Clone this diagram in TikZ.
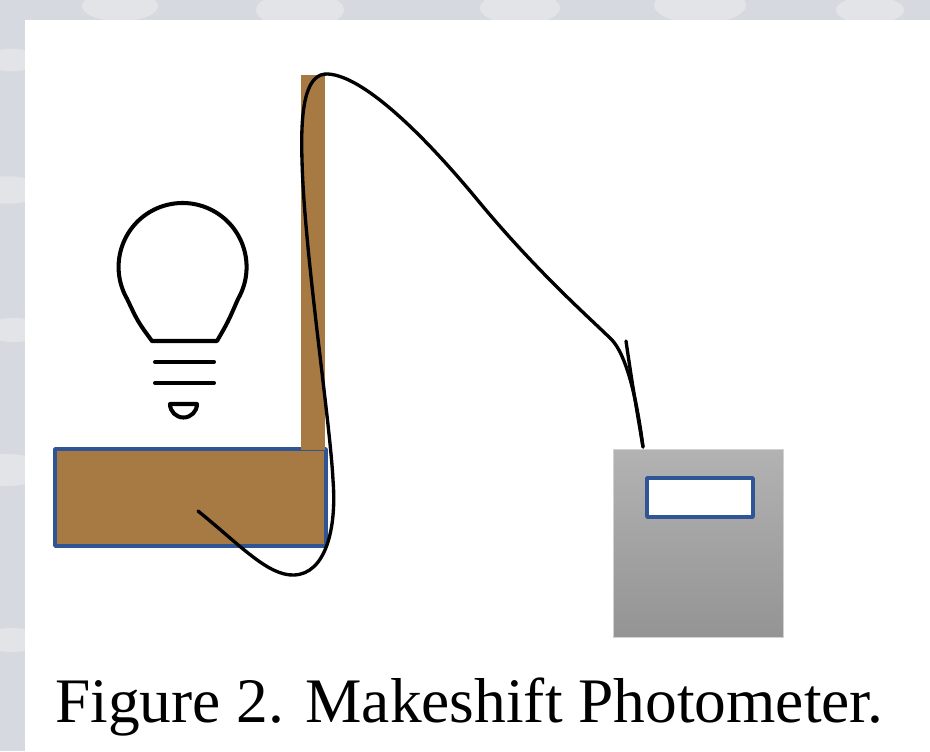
\documentclass[tikz,border=0pt]{standalone}
\usepackage{fontspec}
\setmainfont{Liberation Serif}
\definecolor{wood}{HTML}{A87A43}
\definecolor{edge}{HTML}{2F5597}
\definecolor{haze}{HTML}{D6D9DF}
\begin{document}
\begin{tikzpicture}[x=.02cm, y=-.02cm, line join=round, line cap=round]
	\useasboundingbox (0,0) rectangle (930,751);
	\fill[haze] (0,0) rectangle (930,751);
	\foreach \x/\y/\r in {12/60/28, 8/190/34, 14/330/30, 6/470/40, 12/640/30, 120/6/38, 300/10/44, 520/8/40, 700/5/46, 870/10/34}
		\fill[white, opacity=.3] (\x,\y) ellipse ({\r} and {.4*\r});
	\fill[white] (25,20) rectangle (930,751);
	% lamp
	\begin{scope}[line width=2.3pt]
		\draw (152,341) -- (217,341) .. controls (228,322) .. (238,299)
			arc[start angle=30, end angle=-210, radius=64]
			.. controls (138,322) .. (152,341);
		\foreach \y in {362,383} \draw (155,\y) -- (214,\y);
		\draw (170,404) -- (197,404) arc[start angle=0, end angle=180, radius=13.5];
	\end{scope}
	% stand
	\fill[wood] (55,449) rectangle (326,546);
	\draw[edge, line width=2pt] (55,449) rectangle (326,546);
	\fill[wood] (301,75) rectangle (325,450);
	% meter
	\shade[top color=black!30, bottom color=black!42, draw=black!18, thin] (613,449) rectangle (783,637);
	\draw[edge, line width=2pt, fill=white] (647,478) rectangle (753,517);
	% cable
	\coordinate (sensor) at (198,511);
	\coordinate (plug) at (643,447);
	\draw[line width=1.9pt] (sensor) .. controls (240,545) and (268,576) .. (294,575)
		.. controls (325,574) and (337,530) .. (333,480)
		.. controls (330,420) and (304,250) .. (302,160)
		.. controls (300,100) and (308,73) .. (328,74)
		.. controls (362,76) and (420,130) .. (480,203)
		.. controls (540,275) and (592,320) .. (612,340)
		.. controls (625,354) and (636,392) .. (plug);
	\draw[line width=1.9pt] (626,341) .. controls (632,382) .. (plug);
	\node[anchor=base west, inner sep=0pt, font=\fontsize{36.1}{40}\selectfont] (caption) at (55,722) {Figure 2. Makeshift Photometer.};
\end{tikzpicture}
\end{document}
